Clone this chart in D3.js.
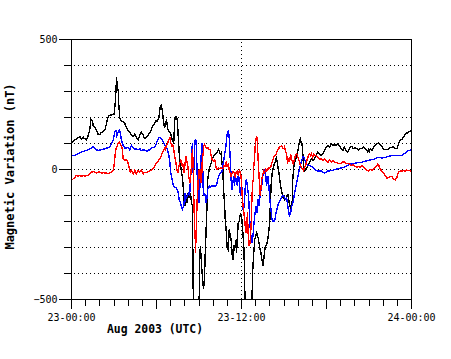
<!DOCTYPE html>
<html>
<head>
<meta charset="utf-8">
<script src="https://cdn.jsdelivr.net/npm/d3@7"></script>
<style>
  html, body { margin: 0; padding: 0; background: #fff; }
  svg { display: block; }
  text { font-family: "DejaVu Sans Mono", "Liberation Mono", monospace; fill: #000; }
</style>
</head>
<body>
<svg id="chart" width="451" height="359"></svg>
<script>
// Time is given in minutes after 2003-08-23 00:00 UTC, values in nT.
const startTime = "2003-08-23T00:00:00Z";
const endTime = "2003-08-24T00:00:00Z";
const yDomain = [-500, 500];
const yTickValues = [-500, -400, -300, -200, -100, 0, 100, 200, 300, 400, 500];
const yLabelValues = [-500, 0, 500];
const xLabelHours = [0, 12, 24];
const xTitle = "Aug 2003 (UTC)";
const yTitle = "Magnetic Variation (nT)";

const blackData = [
[0,104],[21,118],[35,127],[42,118],[50,124],[56,118],[64,114],[71,131],[78,156],[82,195],[88,188],[92,169],[99,163],[106,150],[113,135],[120,135],[127,143],[134,146],[141,150],[148,176],[152,195],[158,208],[169,210],[181,214],[186,265],[189,317],[191,355],[194,311],[198,304],[200,254],[205,195],[212,188],[219,182],[226,176],[233,163],[240,150],[247,143],[254,131],[261,127],[268,137],[275,124],[282,114],[289,131],[296,143],[304,135],
[306,122],[313,119],[321,128],[327,135],[335,147],[342,164],[349,173],[356,186],[363,186],[370,199],[375,237],[380,246],[384,231],[388,199],[394,160],[398,173],[402,192],[408,154],[412,147],[419,141],[426,115],[433,103],[438,199],[442,203],[448,192],[452,128],[457,51],[462,13],[469,-26],[473,-64],[476,-115],[480,-141],[484,-103],[490,-128],[494,-90],[498,-109],[504,-90],[508,-128],[512,-140],[517,-600],[540,-600],
[542,-350],[546,-295],[552,-385],[559,-460],[563,-423],[566,-333],[573,-165],[577,-38],[583,0],[587,13],[594,32],[601,51],[609,58],[615,64],[623,77],[630,58],[634,64],[637,26],[641,0],[644,-77],[648,-127],[651,-192],[655,-231],[659,-301],[664,-310],[668,-231],[672,-250],[676,-269],[681,-333],[685,-346],[689,-290],[693,-300],[698,-269],[699,-320],[706,-205],[710,-200],[716,-167],[720,-180],[724,-218],[727,-260],[730,-300],[733,-397],[736,-600],[762,-600],
[767,-397],[772,-320],[776,-269],[784,-244],[788,-255],[792,-269],[797,-300],[802,-320],[806,-346],[812,-372],[816,-330],[820,-300],[826,-290],[831,-269],[835,-244],[840,-192],[843,-115],[846,-51],[850,-13],[854,6],[858,19],[863,30],[865,38],[868,45],[871,30],[875,6],[879,-13],[882,-38],[886,-64],[891,-90],[897,-109],[901,-100],
[902,-119],[910,-110],[916,-94],[923,-132],[930,-158],[935,-119],[937,-42],[941,9],[947,35],[953,45],[959,73],[966,112],[970,118],[973,100],[975,105],[978,85],[982,22],[987,-4],[991,0],[995,5],[1001,15],[1008,28],[1015,41],[1022,35],[1029,41],[1036,54],[1043,67],[1050,60],[1058,54],[1065,60],[1072,73],[1079,86],[1086,92],[1093,86],[1100,99],[1107,92],[1114,95],[1121,92],[1128,99],[1135,92],[1142,80],[1149,73],[1156,86],[1163,73],[1170,67],
[1173,73],[1180,86],[1187,88],[1193,80],[1201,86],[1208,80],[1215,76],[1223,82],[1229,80],[1237,86],[1244,80],[1251,73],[1255,67],[1258,76],[1262,70],[1266,80],[1272,73],[1279,86],[1286,92],[1293,99],[1300,101],[1307,95],[1314,88],[1321,80],[1329,76],[1336,76],[1343,80],[1350,84],[1357,86],[1364,86],[1371,82],[1378,80],[1385,99],[1392,112],[1398,115],[1406,124],[1413,137],[1420,140],[1427,143],[1434,148],[1440,153]
];

const blueData = [
[0,54],[14,54],[28,60],[42,67],[56,71],[71,76],[78,80],[85,83],[92,88],[99,83],[106,76],[113,73],[127,76],[141,80],[148,83],[155,83],[162,88],[169,99],[177,112],[183,143],[188,150],[192,131],[198,143],[202,153],[206,143],[212,112],[219,92],[226,83],[233,83],[240,85],[247,76],[254,92],[261,83],[268,76],[275,80],[282,76],[289,80],[296,73],[304,76],
[321,71],[332,77],[338,83],[349,86],[356,90],[363,109],[370,122],[377,122],[384,115],[391,103],[398,90],[406,77],[412,58],[417,26],[419,-6],[424,-26],[428,-51],[433,-64],[442,-70],[448,-77],[452,-90],[456,-115],[462,-128],[466,-147],[470,-154],[476,-135],[480,-90],[484,-115],[490,-103],[497,-90],
[500,-103],[504,-38],[507,0],[510,64],[512,103],[515,-13],[518,0],[521,77],[524,115],[528,112],[532,-13],[536,-103],[541,-128],[545,-38],[549,51],[552,103],[555,40],[558,-77],[560,-103],[563,-90],[566,-100],[569,-128],[573,-115],[577,-77],[583,-64],[587,-70],[594,-64],[601,-64],[609,-64],[615,-58],[619,-40],[623,-26],[627,-20],[631,-13],[637,-8],[641,13],[645,38],[649,60],[654,90],[658,128],[662,145],[665,148],[668,120],[671,64],[674,13],[676,-38],[679,-77],[682,-64],[685,-38],[687,-25],[690,-64],[693,-38],[695,-30],[699,-50],
[703,-64],[707,-13],[711,-51],[716,-103],[720,-51],[724,-103],[728,-167],[733,-115],[737,-51],[741,-38],[745,-64],[750,-103],[754,-179],[758,-244],[762,-269],[765,-282],[769,-250],[773,-205],[777,-170],[782,-141],[786,-167],[790,-115],[795,-141],[799,-90],[803,-77],[807,-51],[812,-13],[816,0],[820,-8],[823,-26],[826,-64],[829,-40],[833,-26],[837,-77],[840,-115],[845,-154],[849,-192],[853,-198],[858,-199],[862,-190],[866,-167],[871,-150],[875,-135],[879,-125],[883,-120],[888,-110],[892,-103],[896,-100],[900,-105],
[902,-106],[906,-115],[911,-110],[915,-132],[919,-158],[923,-177],[928,-170],[932,-145],[936,-132],[940,-119],[944,-94],[949,-74],[953,-55],[957,-36],[961,-17],[966,3],[973,28],[979,47],[983,50],[989,35],[995,25],[1001,15],[1008,15],[1015,12],[1022,9],[1029,3],[1036,-4],[1043,-6],[1058,-6],[1065,-10],[1072,-14],[1079,-10],[1086,-6],[1100,-4],[1114,-1],[1128,3],[1142,6],[1156,9],[1170,15],[1177,19],
[1187,22],[1201,24],[1215,28],[1229,28],[1244,32],[1258,35],[1272,38],[1286,41],[1300,47],[1314,44],[1329,47],[1343,50],[1357,54],[1371,54],[1385,54],[1398,54],[1413,63],[1420,67],[1427,73],[1440,76]
];

const redData = [
[0,-42],[7,-36],[14,-30],[21,-23],[28,-26],[35,-23],[42,-26],[50,-23],[56,-26],[64,-23],[71,-23],[78,-17],[85,-10],[92,-8],[99,-10],[106,-14],[113,-10],[120,-10],[127,-14],[134,-12],[141,-14],[148,-12],[155,-17],[162,-14],[169,-10],[177,-4],[181,22],[185,60],[189,80],[194,92],[198,101],[202,105],[206,99],[211,92],[215,80],[219,41],[223,36],[227,35],[232,38],[236,35],[240,22],[244,9],[249,-10],[254,-4],[261,-17],[268,-4],[275,-17],[282,-4],[289,-10],[296,-4],[304,-17],
[306,-13],[321,-10],[335,-4],[342,0],[349,6],[356,19],[363,28],[370,36],[377,45],[384,64],[388,70],[394,83],[398,77],[402,92],[408,103],[412,115],[417,122],[421,100],[425,90],[429,95],[433,77],[438,45],[442,26],[446,0],[451,-13],[455,13],[459,26],[463,38],[467,13],[471,26],[476,-13],[480,13],[484,51],[488,32],[493,13],
[497,-30],[502,-50],[506,-13],[510,40],[512,77],[515,30],[518,-115],[521,-205],[524,-269],[525,-320],[527,-269],[530,-180],[533,-100],[535,-77],[538,-13],[541,0],[543,-38],[546,0],[549,-50],[552,-13],[555,64],[558,51],[560,90],[563,96],[571,83],[579,83],[583,77],[587,77],[592,51],[596,38],[600,32],[604,32],[607,38],[610,19],[613,6],[617,0],[622,6],[626,3],[630,6],[637,6],[641,3],[645,13],[651,13],[655,26],[659,13],[664,19],[668,0],[672,-13],[676,-26],[681,-13],[685,-8],[689,-13],[693,-26],[698,-8],
[699,-13],[703,-8],[707,-26],[711,0],[716,-13],[719,-40],[722,-90],[724,-115],[727,-141],[730,-165],[733,-190],[736,-218],[739,-244],[742,-230],[745,-165],[748,-244],[750,-269],[753,-295],[756,-282],[758,-256],[762,-192],[764,-115],[767,-51],[770,-38],[772,13],[775,38],[778,90],[781,115],[784,128],[787,115],[789,64],[792,13],[795,-38],[798,-90],[800,-100],[803,-64],[806,-38],[809,-20],[812,-13],[814,-6],[818,-13],[823,0],[827,-6],[831,0],[835,6],[840,6],[845,13],[849,26],[853,38],[858,51],[862,55],[866,58],[870,70],[875,77],[879,83],[883,87],[888,90],[892,87],[896,80],[900,80],
[902,86],[906,73],[911,60],[915,22],[919,45],[923,28],[928,60],[932,40],[936,28],[940,22],[944,40],[949,54],[953,60],[957,54],[961,41],[966,28],[970,15],[974,9],[978,3],[983,-4],[987,9],[991,15],[995,28],[999,41],[1004,54],[1008,60],[1012,54],[1016,60],[1021,47],[1025,60],[1029,54],[1033,54],[1043,47],[1050,41],[1058,41],[1065,35],[1072,41],[1079,35],[1086,28],[1093,35],[1100,28],[1107,35],[1114,28],[1121,28],[1128,24],[1142,22],[1149,31],[1156,28],[1163,22],[1170,24],
[1173,24],[1180,19],[1187,15],[1193,19],[1201,12],[1208,9],[1215,12],[1223,9],[1229,15],[1237,9],[1244,3],[1251,-3],[1258,-6],[1265,0],[1272,-3],[1279,3],[1286,9],[1293,15],[1297,22],[1300,19],[1304,9],[1308,3],[1312,-4],[1317,-10],[1321,-14],[1329,-23],[1336,-33],[1343,-30],[1350,-26],[1357,-28],[1364,-36],[1371,-40],[1378,-30],[1385,-10],[1392,-6],[1398,-6],[1406,-4],[1413,-6],[1420,-2],[1427,-4],[1440,-6]
];

const seriesList = [
  { data: blackData, color: "#000000" },
  { data: blueData, color: "#0000ff" },
  { data: redData, color: "#ff0000" }
];

const t0 = new Date(startTime);
const t1 = new Date(endTime);
const toDate = m => new Date(t0.getTime() + m * 60000);

const svg = d3.select("#chart");
const pL = 71.5, pR = 411.5, pT = 39.5, pB = 299.5;

const x = d3.scaleUtc().domain([t0, t1]).range([pL, pR]);
const y = d3.scaleLinear().domain(yDomain).range([pB, pT]);
const snap = v => Math.round(v - 0.5) + 0.5;

svg.append("defs").append("clipPath").attr("id", "plotclip")
  .append("rect").attr("x", pL).attr("y", pT).attr("width", pR - pL).attr("height", pB - pT);

// horizontal dotted gridlines
svg.append("g").selectAll("line")
  .data(yTickValues.filter(v => v > yDomain[0] && v < yDomain[1]))
  .join("line")
  .attr("x1", pL + 2).attr("x2", pR)
  .attr("y1", d => snap(y(d))).attr("y2", d => snap(y(d)))
  .attr("stroke", "#000").attr("stroke-width", 1).attr("stroke-dasharray", "1,3")
  .attr("shape-rendering", "crispEdges");

// vertical dotted line at 12:00
const noon = d3.utcHour.offset(t0, 12);
svg.append("line")
  .attr("x1", snap(x(noon))).attr("x2", snap(x(noon)))
  .attr("y1", pT + 2).attr("y2", pB)
  .attr("stroke", "#000").attr("stroke-dasharray", "1,3")
  .attr("shape-rendering", "crispEdges");

// data lines
const line = d3.line().x(d => x(toDate(d[0]))).y(d => y(d[1]));
const gData = svg.append("g").attr("clip-path", "url(#plotclip)");
seriesList.forEach(s => {
  gData.append("path").datum(s.data)
    .attr("d", line)
    .attr("fill", "none")
    .attr("stroke", s.color)
    .attr("stroke-width", 1.4)
    .attr("stroke-linejoin", "miter")
    .attr("shape-rendering", "crispEdges");
});

// frame
svg.append("rect").attr("x", pL).attr("y", pT).attr("width", pR - pL).attr("height", pB - pT)
  .attr("fill", "none").attr("stroke", "#000").attr("stroke-width", 1).attr("shape-rendering", "crispEdges");

// y axis ticks
const gy = svg.append("g");
gy.selectAll("line").data(yTickValues).join("line")
  .attr("x1", d => yLabelValues.includes(d) ? pL - 13 : pL - 8).attr("x2", pL)
  .attr("y1", d => snap(y(d))).attr("y2", d => snap(y(d)))
  .attr("stroke", "#000").attr("shape-rendering", "crispEdges");
gy.selectAll("text").data(yLabelValues).join("text")
  .attr("x", pL - 14).attr("y", d => y(d) + 3.5)
  .attr("text-anchor", "end").attr("font-size", "10px")
  .text(d => d3.format("d")(d));

// x axis ticks
const hourTicks = d3.utcHour.range(t0, d3.utcHour.offset(t1, 1));
const gx = svg.append("g");
gx.selectAll("line").data(hourTicks).join("line")
  .attr("x1", d => snap(x(d))).attr("x2", d => snap(x(d)))
  .attr("y1", pB).attr("y2", d => (d.getUTCHours() % 6 === 0) ? pB + 9 : pB + 6)
  .attr("stroke", "#000").attr("shape-rendering", "crispEdges");
const fmt = d3.utcFormat("%d-%H:%M");
gx.selectAll("text").data(xLabelHours.map(h => d3.utcHour.offset(t0, h))).join("text")
  .attr("x", d => x(d)).attr("y", 320.5)
  .attr("text-anchor", "middle").attr("font-size", "10px")
  .text(d => fmt(d));

// titles
svg.append("text").attr("x", 107).attr("y", 333)
  .attr("font-size", "11.4px").attr("font-weight", "bold")
  .text(xTitle);
svg.append("text")
  .attr("transform", "translate(13.5,166.5) rotate(-90)")
  .attr("text-anchor", "middle")
  .attr("font-size", "12px").attr("font-weight", "bold")
  .text(yTitle);
</script>
</body>
</html>
